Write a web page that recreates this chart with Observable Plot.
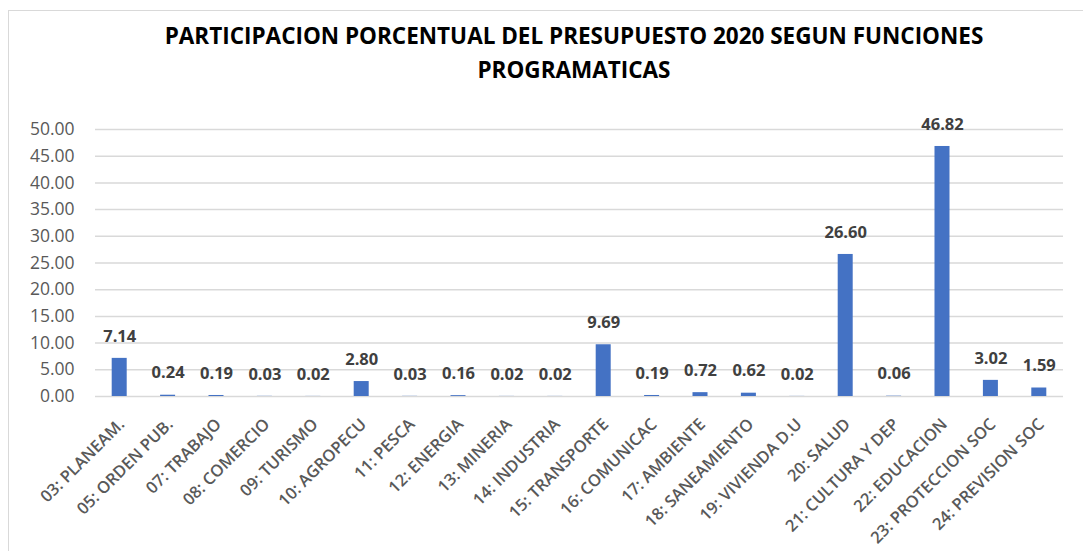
<!DOCTYPE html>
<html>
<head>
<meta charset="utf-8">
<script src="https://cdn.jsdelivr.net/npm/d3@7"></script>
<script src="https://cdn.jsdelivr.net/npm/@observablehq/plot@0.6"></script>
<style>
  html, body { margin: 0; padding: 0; background: #fff; }
  #wrap { position: relative; width: 1083px; height: 551px; overflow: hidden; background: #fff; }
  #frame { position: absolute; left: 8px; top: 10px; width: 1100px; height: 600px;
           border-top: 1.5px solid #d9d9d9; border-left: 1.5px solid #d9d9d9; }
  .title { position: absolute; left: 0; width: 1148px; text-align: center;
           font-family: "Open Sans", sans-serif; font-weight: 700; font-size: 22.5px; color: #000;
           white-space: nowrap; line-height: 30px; }
  #chart { position: absolute; left: 0; top: 0; }
</style>
</head>
<body>
<div id="wrap">
  <div id="frame"></div>
  <div id="chart"></div>
  <div class="title" style="top:21px">PARTICIPACION PORCENTUAL DEL PRESUPUESTO 2020 SEGUN FUNCIONES</div>
  <div class="title" style="top:55px">PROGRAMATICAS</div>
</div>
<script>
const categories = ["03: PLANEAM.", "05: ORDEN PUB.", "07: TRABAJO", "08: COMERCIO", "09: TURISMO",
  "10: AGROPECU", "11: PESCA", "12: ENERGIA", "13: MINERIA", "14: INDUSTRIA", "15: TRANSPORTE",
  "16: COMUNICAC", "17: AMBIENTE", "18: SANEAMIENTO", "19: VIVIENDA D.U", "20: SALUD",
  "21: CULTURA Y DEP", "22: EDUCACION", "23: PROTECCION SOC", "24: PREVISION SOC"];
const values = [7.14, 0.24, 0.19, 0.03, 0.02, 2.80, 0.03, 0.16, 0.02, 0.02, 9.69,
  0.19, 0.72, 0.62, 0.02, 26.60, 0.06, 46.82, 3.02, 1.59];
const yTicks = [0, 5, 10, 15, 20, 25, 30, 35, 40, 45, 50];

const data = categories.map((c, i) => ({cat: c, val: values[i]}));
const fmt = d3.format(".2f");

const chart = Plot.plot({
  width: 1083,
  height: 551,
  marginTop: 129,
  marginBottom: 155,
  marginLeft: 95,
  marginRight: 20,
  style: {fontFamily: "'Open Sans', sans-serif", background: "transparent", overflow: "visible"},
  x: {domain: categories, paddingInner: 0.69, paddingOuter: 0.345, round: false, label: null},
  y: {domain: [0, 50], label: null},
  marks: [
    Plot.gridY(yTicks, {stroke: "#d9d9d9", strokeOpacity: 1, strokeWidth: 1.5}),
    Plot.barY(data, {x: "cat", y: "val", fill: "#4472c4"}),
    Plot.text(data, {x: "cat", y: "val", text: d => fmt(d.val), dy: -22,
      fontWeight: "bold", fontSize: 16.5, fill: "#404040"}),
    Plot.axisY({ticks: yTicks, tickFormat: fmt, tickSize: 0, tickPadding: 21,
      fontSize: 17.5, fill: "#595959"}),
    Plot.axisX({tickRotate: -45, tickSize: 0, tickPadding: 25, dx: 2, fontSize: 16.5, fontWeight: 600, fill: "#595959"})
  ]
});
document.getElementById("chart").appendChild(chart);
</script>
</body>
</html>
